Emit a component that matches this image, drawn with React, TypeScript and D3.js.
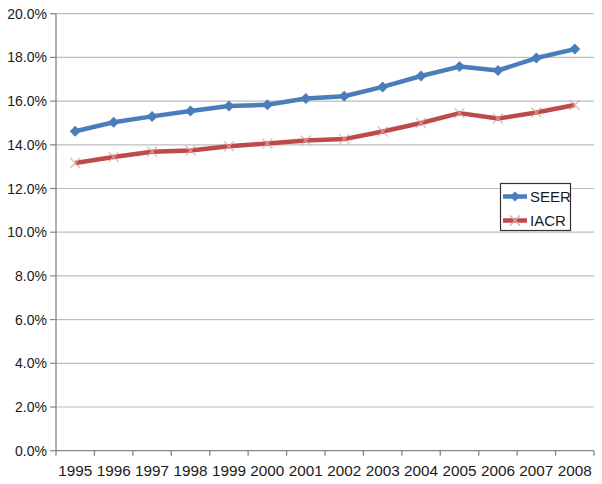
import React from "react";
import * as d3 from "d3";

const years = ["1995","1996","1997","1998","1999","2000","2001","2002","2003","2004","2005","2006","2007","2008"];
const seer = [14.62, 15.03, 15.3, 15.55, 15.78, 15.83, 16.12, 16.22, 16.65, 17.15, 17.58, 17.4, 17.97, 18.38];
const iacr = [13.17, 13.44, 13.68, 13.74, 13.93, 14.06, 14.2, 14.26, 14.61, 15.0, 15.45, 15.2, 15.48, 15.82];
const yTicks = [0, 2, 4, 6, 8, 10, 12, 14, 16, 18, 20];
const seriesNames = ["SEER", "IACR"];

const W = 602, H = 484;
const left = 56, right = 594, top = 13.7, bottom = 450.7;

export default function App() {
  const x = d3.scaleBand<string>().domain(years).range([left, right]);
  const y = d3.scaleLinear().domain([0, 20]).range([bottom, top]);
  const cx = (yr: string) => (x(yr) as number) + x.bandwidth() / 2;
  const line = d3.line<number>().x((_, i) => cx(years[i])).y((d) => y(d));
  const font = "'Liberation Sans', Arial, sans-serif";
  const blue = "#4A7EBB";
  const red = "#BE4B48";
  const diamond = (px: number, py: number, r: number) =>
    `M${px},${py - r}L${px + r},${py}L${px},${py + r}L${px - r},${py}Z`;
  const cross = (px: number, py: number, r: number) =>
    `M${px - r},${py - r}L${px + r},${py + r}M${px - r},${py + r}L${px + r},${py - r}`;

  return (
    <svg width={W} height={H} style={{ position: "absolute", left: 0, top: 0, background: "#fff" }}>
      {yTicks.map((t) => (
        <g key={t}>
          {t > 0 && <line x1={left} x2={right} y1={y(t)} y2={y(t)} stroke="#BEBEBE" strokeWidth={1.2} />}
          <line x1={left - 6} x2={left} y1={y(t)} y2={y(t)} stroke="#868686" strokeWidth={1.2} />
          <text x={47} y={y(t) + 5} textAnchor="end" fontFamily={font} fontSize={14} fill="#1a1a1a">
            {t.toFixed(1) + "%"}
          </text>
        </g>
      ))}
      <line x1={left} x2={left} y1={top} y2={bottom} stroke="#868686" strokeWidth={1.3} />
      <line x1={left} x2={right} y1={bottom} y2={bottom} stroke="#868686" strokeWidth={1.3} />
      {years.concat(["end"]).map((yr, i) => {
        const xx = left + i * x.bandwidth();
        return <line key={"t" + i} x1={xx} x2={xx} y1={bottom} y2={bottom + 5} stroke="#868686" strokeWidth={1.3} />;
      })}
      {years.map((yr) => (
        <text key={yr} x={cx(yr)} y={476} textAnchor="middle" fontFamily={font} fontSize={15.3} fill="#1a1a1a">
          {yr}
        </text>
      ))}
      <path d={line(iacr) || ""} fill="none" stroke={red} strokeWidth={4.5} strokeLinejoin="round" />
      {iacr.map((v, i) => (
        <path key={"i" + i} d={cross(cx(years[i]), y(v), 5)} stroke="#D9A9A8" strokeWidth={1.3} fill="none" opacity={0.8} />
      ))}
      <path d={line(seer) || ""} fill="none" stroke={blue} strokeWidth={4.5} strokeLinejoin="round" />
      {seer.map((v, i) => (
        <path key={"s" + i} d={diamond(cx(years[i]), y(v), 5.5)} fill={blue} />
      ))}
      <rect x={500.5} y={183.5} width={70} height={47} fill="#fff" stroke="#333" strokeWidth={1.2} />
      {seriesNames.map((name, i) => {
        const ly = 196.5 + i * 24;
        const c = i === 0 ? blue : red;
        return (
          <g key={name}>
            <line x1={503} x2={527} y1={ly} y2={ly} stroke={c} strokeWidth={4.5} />
            {i === 0 ? (
              <path d={diamond(515, ly, 5)} fill={c} />
            ) : (
              <path d={cross(515, ly, 5)} stroke="#D9A9A8" strokeWidth={1.3} fill="none" />
            )}
            <text x={530} y={ly + 5.5} fontFamily={font} fontSize={15} fill="#1a1a1a">
              {name}
            </text>
          </g>
        );
      })}
    </svg>
  );
}
